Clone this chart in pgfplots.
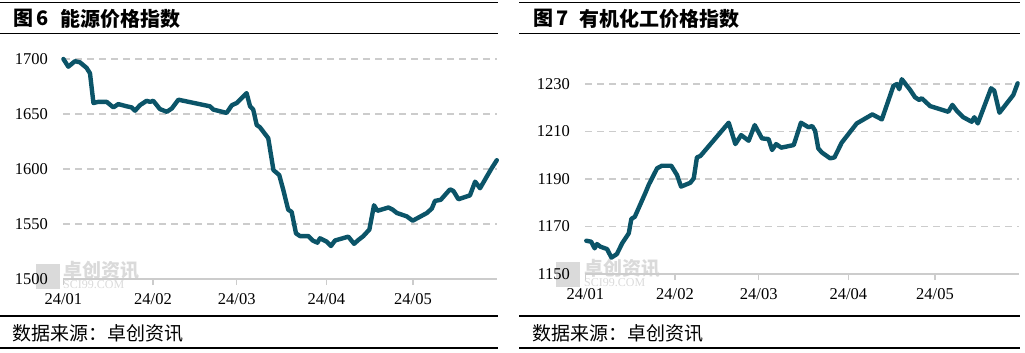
\documentclass[border=0pt]{standalone}
\usepackage{pgfplots}
\pgfplotsset{compat=1.18}
\usepackage{fontspec}
\setmainfont{Liberation Serif}
\newfontfamily\cjk{Noto Sans CJK SC}
\definecolor{lineblue}{HTML}{0B5468}
\definecolor{gridgray}{HTML}{CCCCCC}
\definecolor{wm}{HTML}{DADADA}
\pgfplotsset{
  mystyle/.style={
    scale only axis,
    width=433.4bp,
    xmin=0, xmax=150,
    clip=false,
    axis x line*=bottom,
    axis y line*=left,
    y axis line style={draw=none},
    x axis line style={gridgray, line width=1.3bp},
    xtick={0,31,60,91,121},
    xticklabels={24/01,24/02,24/03,24/04,24/05},
    tick align=outside,
    major tick length=6bp,
    xtick style={gridgray, line width=1.3bp},
    ytick style={draw=none},
    ymajorgrids,
    grid style={gridgray, line width=1.3bp, dash pattern=on 7bp off 5bp},
    tick label style={font=\fontsize{16.5bp}{18bp}\selectfont, black},
    yticklabel style={xshift=-6bp},
    xticklabel style={yshift=-5bp},
    /pgf/number format/assume math mode=true,
    /pgf/number format/1000 sep={},
  }
}
\begin{document}
\begin{tikzpicture}[x=1bp,y=1bp]
\path[use as bounding box] (0,0) rectangle (1025,352);
% frame lines
\draw[line width=1.2bp] (0,349.3) -- (498,349.3);
\draw[line width=1.2bp] (0,318.7) -- (498,318.7);
\draw[line width=1.2bp] (0,36) -- (498,36);
\draw[line width=1.2bp] (0,4) -- (498,4);
\draw[line width=1.2bp] (519,349.3) -- (1020,349.3);
\draw[line width=1.2bp] (519,318.7) -- (1020,318.7);
\draw[line width=1.2bp] (519,36) -- (1020,36);
\draw[line width=1.2bp] (519,4) -- (1020,4);
% titles
\node[anchor=west, inner sep=0pt, font=\fontsize{20bp}{22bp}\selectfont] at (13,333.5) {\cjk\bfseries 图\,\textbf{6}};
\node[anchor=west, inner sep=0pt, font=\fontsize{20bp}{22bp}\selectfont] at (60,333.5) {\cjk\bfseries 能源价格指数};
\node[anchor=west, inner sep=0pt, font=\fontsize{20bp}{22bp}\selectfont] at (533,333.5) {\cjk\bfseries 图\,\textbf{7}};
\node[anchor=west, inner sep=0pt, font=\fontsize{20bp}{22bp}\selectfont] at (579,333.5) {\cjk\bfseries 有机化工价格指数};
% footers
\node[anchor=west, inner sep=0pt, font=\fontsize{19bp}{21bp}\selectfont] at (12,19) {\cjk 数据来源：卓创资讯};
\node[anchor=west, inner sep=0pt, font=\fontsize{19bp}{21bp}\selectfont] at (532,19) {\cjk 数据来源：卓创资讯};
% watermarks
\fill[wm] (36,88) rectangle (60,63);
\node[anchor=west, inner sep=0pt, text=wm, font=\fontsize{19bp}{21bp}\selectfont] at (63,82) {\cjk\bfseries 卓创资讯};
\node[anchor=west, inner sep=0pt, text=wm, font=\fontsize{12bp}{13bp}\selectfont] at (63,67) {SCI99.COM};
\fill[wm] (556,90) rectangle (580,65);
\node[anchor=west, inner sep=0pt, text=wm, font=\fontsize{19bp}{21bp}\selectfont] at (584,84) {\cjk\bfseries 卓创资讯};
\node[anchor=west, inner sep=0pt, text=wm, font=\fontsize{12bp}{13bp}\selectfont] at (584,69) {SCI99.COM};

\begin{axis}[mystyle, at={(63.4bp,73bp)}, anchor=south west, height=220bp,
  ymin=1500, ymax=1700, ytick={1500,1550,1600,1650,1700}]
\addplot[lineblue, line width=4.4bp, line join=round, line cap=round] coordinates {
(0,1700) (1.7,1693) (4,1698) (5.7,1697) (8,1692) (9.2,1687) (10.4,1660) (12,1661) (15,1661)
(17.3,1656) (19,1659) (21.9,1657) (23.6,1656) (24.8,1653) (26.5,1658) (28.8,1662) (30,1661)
(31.1,1662) (33.4,1654.5) (35.8,1652) (37.5,1655) (39.8,1663) (50.7,1657) (51.9,1654)
(56.5,1651) (58.3,1658) (60,1660) (63.4,1669) (64.6,1657) (65.7,1654) (66.9,1640) (68,1638)
(70.9,1628) (72.7,1599) (74.7,1594.5) (76.1,1581) (77.8,1563) (79,1561) (80.5,1541.5)
(81.9,1539) (84.8,1539) (86.3,1535) (87.9,1533) (88.8,1537) (91.1,1534) (92.6,1530) (94,1535)
(98.6,1538.5) (100.6,1532) (102.1,1535.5) (103.8,1539) (105.9,1545) (107.5,1567) (108.7,1562)
(112.5,1565) (114,1563) (115.4,1560) (118.8,1557) (120.9,1553) (125.8,1560) (127.5,1564)
(128.6,1571) (130.6,1572) (133.8,1581.5) (135,1580) (136.7,1572.5) (140.7,1576) (142.5,1588.5)
(144.2,1582.5) (146.5,1593) (148.2,1600.6) (150,1608)
};
\end{axis}

\begin{axis}[mystyle, at={(585.4bp,78bp)}, anchor=south west, height=190bp,
  ymin=1150, ymax=1230, ytick={1150,1170,1190,1210,1230}]
\addplot[lineblue, line width=4.4bp, line join=round, line cap=round] coordinates {
(0.3,1164) (2,1163.6) (3.2,1160.8) (4,1162.6) (5.2,1161.5) (7.5,1160.5) (9,1156.9) (10.9,1158.4)
(12.7,1162.9) (15,1167.1) (15.9,1173.2) (17.1,1174.1) (20.7,1184) (21.9,1187.5) (24.8,1194.5)
(26.5,1195.6) (29.7,1195.6) (31.7,1191.7) (33.1,1186.8) (36.3,1188.4) (37.5,1190.3) (38.6,1199.1)
(39.8,1199.7) (49.6,1213.7) (51.9,1204.7) (53.9,1208.5) (56.5,1206.1) (58.6,1212.7) (61.1,1207.1)
(63.4,1206.8) (64.6,1202.2) (66,1204.7) (67.8,1203.2) (72.1,1204.3) (74.6,1213.7) (77.2,1211.8)
(78.5,1212.3) (79.5,1210.3) (80.6,1202.9) (81.8,1201.2) (84.7,1198.7) (86.2,1199.1) (88.7,1205.3)
(93.9,1213.4) (99.3,1217.2) (102.6,1215.1) (106.6,1229.2) (107.8,1230) (108.6,1227.8) (109.5,1232)
(112.4,1227.5) (114.1,1224.4) (115.5,1223.3) (116.4,1224) (119.3,1220.7) (125.6,1218.3) (127,1221.2)
(128.5,1218.8) (130.8,1216) (133.7,1214.1) (134.6,1216) (135.8,1213.4) (137.2,1217.9) (140.4,1228.2)
(141.5,1227.2) (143.3,1217.9) (148.1,1225.4) (149.6,1230.3)
};
\end{axis}
\end{tikzpicture}
\end{document}
